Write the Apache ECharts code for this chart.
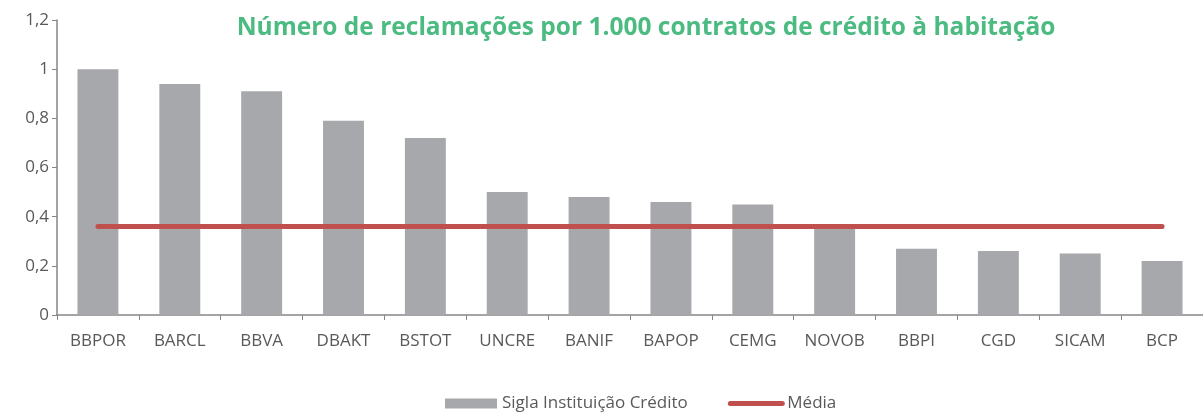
<!DOCTYPE html>
<html lang="pt">
<head>
	<meta charset="UTF-8">
	<title>Reclamações</title>
	<script src="https://cdn.jsdelivr.net/npm/echarts@6/dist/echarts.min.js"></script>
	<style>
		* { margin: 0; padding: 0; }
		#container { width: 1203px; height: 416px; }
	</style>
</head>
<body>
<div id="container"></div>
<script type="text/javascript">
	// dados
	var bancos = ['BBPOR', 'BARCL', 'BBVA', 'DBAKT', 'BSTOT', 'UNCRE', 'BANIF', 'BAPOP', 'CEMG', 'NOVOB', 'BBPI', 'CGD', 'SICAM', 'BCP'];
	var reclamacoes = [1.00, 0.94, 0.91, 0.79, 0.72, 0.50, 0.48, 0.46, 0.45, 0.37, 0.27, 0.26, 0.25, 0.22];
	var mediaValor = 0.36;
	var media = bancos.map(function () { return mediaValor; });

	var fonte = '"Open Sans", sans-serif';
	var cinza = '#595959';

	var myChart = echarts.init(document.getElementById('container'));

	var option = {
		animation: false,
		title: {
			text: 'Número de reclamações por 1.000 contratos de crédito à habitação',
			left: 641,
			textAlign: 'center',
			top: 11,
			textStyle: {
				color: '#4cbb82',
				fontFamily: fonte,
				fontWeight: 'bold',
				fontSize: 24.5
			}
		},
		legend: {
			top: 390,
			left: 440,
			itemWidth: 52,
			itemHeight: 10,
			itemGap: 40,
			textStyle: { color: cinza, fontFamily: fonte, fontSize: 17 },
			lineStyle: { width: 5, cap: 'round' },
			data: [
				{ name: 'Sigla Instituição Crédito', icon: 'rect' },
				{ name: 'Média', itemStyle: { opacity: 0 } }
			]
		},
		grid: {
			left: 57,
			right: -2,
			top: 20,
			bottom: 101
		},
		xAxis: {
			type: 'category',
			data: bancos,
			axisLine: { lineStyle: { color: '#868686', width: 1.5 } },
			axisTick: { show: true, length: 5, lineStyle: { color: '#868686' } },
			axisLabel: { color: cinza, fontFamily: fonte, fontSize: 17, margin: 18, interval: 0 }
		},
		yAxis: {
			type: 'value',
			min: 0,
			max: 1.2,
			interval: 0.2,
			axisLine: { show: true, lineStyle: { color: '#868686', width: 1.5 } },
			axisTick: { show: true, length: 5, lineStyle: { color: '#868686' } },
			splitLine: { show: false },
			axisLabel: {
				color: cinza,
				fontFamily: fonte,
				fontSize: 17,
				margin: 8,
				formatter: function (v) {
					return String(+v.toFixed(1)).replace('.', ',');
				}
			}
		},
		series: [
			{
				name: 'Sigla Instituição Crédito',
				type: 'bar',
				barWidth: '50%',
				itemStyle: { color: '#a7a8ab' },
				data: reclamacoes
			},
			{
				name: 'Média',
				type: 'line',
				symbol: 'none',
				lineStyle: { color: '#c0504d', width: 5, cap: 'round' },
				itemStyle: { color: '#c0504d' },
				data: media
			}
		]
	};

	myChart.setOption(option);
</script>
</body>
</html>
